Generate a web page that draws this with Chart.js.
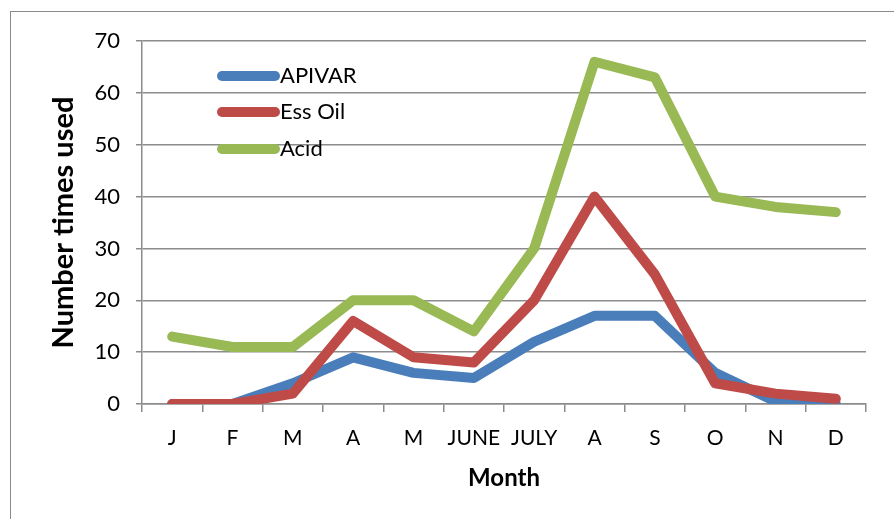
<!DOCTYPE html>
<html>
<head>
<meta charset="utf-8">
<script src="https://cdn.jsdelivr.net/npm/chart.js@4.4.1/dist/chart.umd.min.js"></script>
<style>
  html, body { margin: 0; padding: 0; background: #fff; }
  #wrap { position: relative; width: 894px; height: 519px; overflow: hidden; }
  #frame { position: absolute; left: 10px; top: 11px; width: 900px; height: 520px; border: 1.5px solid #8a8a8a; box-sizing: border-box; }
  canvas { position: absolute; left: 0; top: 0; }
</style>
</head>
<body>
<div id="wrap">
  <div id="frame"></div>
  <canvas id="c" width="894" height="519"></canvas>
</div>
<script>
const months = ['J', 'F', 'M', 'A', 'M', 'JUNE', 'JULY', 'A', 'S', 'O', 'N', 'D'];
const apivar = [0, 0, 4, 9, 6, 5, 12, 17, 17, 6, 0.5, 0];
const essOil = [0, 0, 2, 16, 9, 8, 20, 40, 25, 4, 2, 1];
const acid   = [13, 11, 11, 20, 20, 14, 30, 66, 63, 40, 38, 37];
const seriesNames = ['APIVAR', 'Ess Oil', 'Acid'];
const seriesColors = ['#4A7EBB', '#BE4B48', '#98B954'];
const yTitle = 'Number times used';
const xTitle = 'Month';

const FONT = 'Lato, "Open Sans", sans-serif';
const GRID = '#8c8c8c';

const legendInside = {
  id: 'legendInside',
  afterDraw(chart) {
    const ctx = chart.ctx;
    const ys = [76, 112, 149];
    ctx.save();
    chart.data.datasets.forEach((ds, i) => {
      ctx.strokeStyle = ds.borderColor;
      ctx.lineWidth = 10;
      ctx.lineCap = 'round';
      ctx.beginPath();
      ctx.moveTo(222, ys[i]);
      ctx.lineTo(275, ys[i]);
      ctx.stroke();
      ctx.fillStyle = '#000';
      ctx.font = '22px ' + FONT;
      ctx.textBaseline = 'middle';
      ctx.textAlign = 'left';
      ctx.fillText(ds.label, 280, ys[i]);
    });
    ctx.restore();
  }
};

const mk = (label, data, color, order) => ({
  label, data, order,
  borderColor: color, backgroundColor: color,
  borderWidth: 10, pointRadius: 0, pointHoverRadius: 0,
  tension: 0, borderCapStyle: 'round', borderJoinStyle: 'round', fill: false
});

new Chart(document.getElementById('c'), {
  type: 'line',
  data: {
    labels: months,
    datasets: [
      mk(seriesNames[0], apivar, seriesColors[0], 3),
      mk(seriesNames[1], essOil, seriesColors[1], 2),
      mk(seriesNames[2], acid, seriesColors[2], 1)
    ]
  },
  options: {
    responsive: false,
    animation: false,
    events: [],
    layout: { padding: { left: 46, right: 28, top: 41, bottom: 26 } },
    plugins: { legend: { display: false }, tooltip: { enabled: false } },
    scales: {
      x: {
        offset: true,
        grid: { offset: true, drawOnChartArea: false, drawTicks: true, tickLength: 8, color: GRID, lineWidth: 1.5 },
        border: { color: GRID, width: 1.5 },
        ticks: { color: '#000', font: { family: FONT, size: 21 }, padding: 14, maxRotation: 0, autoSkip: false },
        title: { display: true, text: xTitle, color: '#000', font: { family: FONT, size: 24, weight: 'bold' }, padding: { top: 0, bottom: 0 } },
        afterFit(s) { s.height = 89; }
      },
      y: {
        min: 0, max: 70,
        ticks: { stepSize: 10, color: '#000', font: { family: FONT, size: 22 }, padding: 16 },
        grid: { color: GRID, lineWidth: 1.5, tickLength: 6 },
        border: { color: GRID, width: 1.5 },
        title: { display: true, text: yTitle, color: '#000', font: { family: FONT, size: 29, weight: 'bold' }, padding: { top: 0, bottom: 0 } },
        afterFit(s) { s.width = 96; }
      }
    }
  },
  plugins: [legendInside]
});
</script>
</body>
</html>
